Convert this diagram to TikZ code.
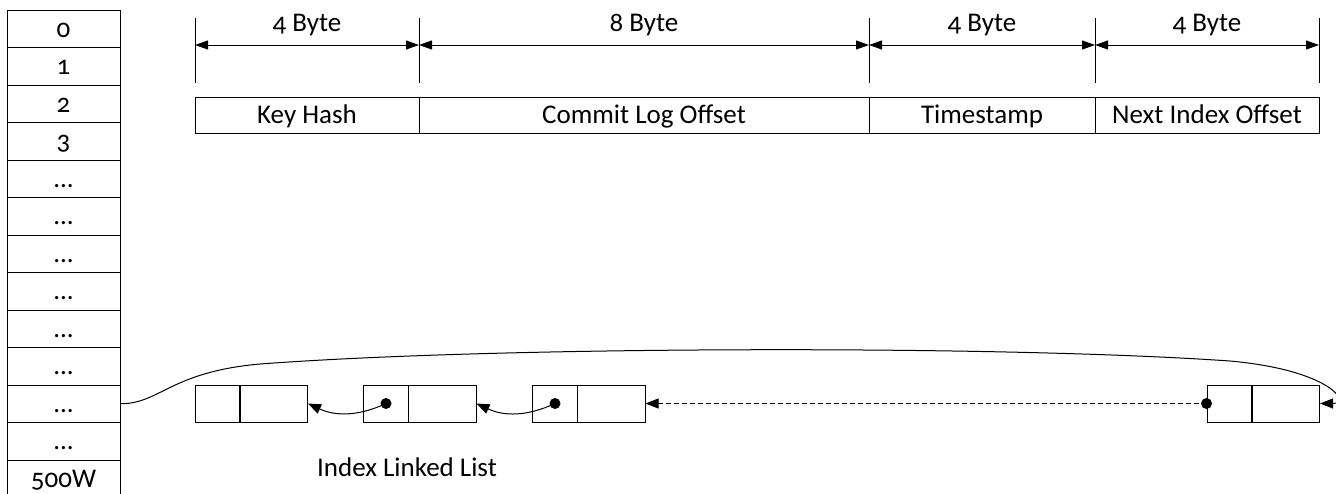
\documentclass[tikz,border=0pt]{standalone}
\usepackage{fontspec}
\setmainfont{Carlito}[Numbers=OldStyle]
\usetikzlibrary{arrows.meta}
\tikzset{
    every node/.style={inner sep=0pt, font=\fontsize{27}{32}\selectfont,
    	text height=17pt, text depth=0pt}
}
\tikzset{
    slot/.style={rectangle, draw, line width=1pt, minimum width=113pt,
    	minimum height=37.5pt},
    field/.style={rectangle, draw, line width=1pt, minimum height=36pt},
    ptr/.style={rectangle, draw, line width=1pt, minimum width=45pt,
    	minimum height=37pt},
    dat/.style={rectangle, draw, line width=1pt, minimum width=68pt,
    	minimum height=37pt},
    ptrdot/.style={circle, fill, minimum size=11pt, text height=0pt}
}
\tikzset{
    dimline/.style={line width=1pt},
    dimarrow/.style={line width=1pt,
    	{Triangle[length=13pt,width=9pt]}-{Triangle[length=13pt,width=9pt]}},
    link/.style={line width=1pt, -{Triangle[length=13pt,width=10pt]}}
}

\begin{document}
\begin{tikzpicture}[x=1pt, y=1pt]
  \useasboundingbox (0,0) rectangle (1336,-493);

  % hash slots
  \node (c0) [slot] at (63.5,-28.75) {0};
  \node (c1) [slot] at (63.5,-66.25) {1};
  \node (c2) [slot] at (63.5,-103.75) {2};
  \node (c3) [slot] at (63.5,-141.25) {3};
  \node (c4) [slot] at (63.5,-178.75) {...};
  \node (c5) [slot] at (63.5,-216.25) {...};
  \node (c6) [slot] at (63.5,-253.75) {...};
  \node (c7) [slot] at (63.5,-291.25) {...};
  \node (c8) [slot] at (63.5,-328.75) {...};
  \node (c9) [slot] at (63.5,-366.25) {...};
  \node (c10) [slot] at (63.5,-403.75) {...};
  \node (c11) [slot] at (63.5,-441.25) {...};
  \node (c12) [slot] at (63.5,-478.75) {500W};

  % byte widths
  \coordinate (t0) at (195,-18);
  \coordinate (t1) at (419,-18);
  \coordinate (t2) at (869,-18);
  \coordinate (t3) at (1095,-18);
  \coordinate (t4) at (1319,-18);
  \coordinate (b0) at (195,-83);
  \coordinate (b1) at (419,-83);
  \coordinate (b2) at (869,-83);
  \coordinate (b3) at (1095,-83);
  \coordinate (b4) at (1319,-83);
  \coordinate (a0) at (195,-45);
  \coordinate (a1) at (419,-45);
  \coordinate (a2) at (869,-45);
  \coordinate (a3) at (1095,-45);
  \coordinate (a4) at (1319,-45);
  \node (w0) at (307,-23) {4 Byte};
  \node (w1) at (644,-23) {8 Byte};
  \node (w2) at (982,-23) {4 Byte};
  \node (w3) at (1207,-23) {4 Byte};

  \draw (t0) edge [dimline] (b0);
  \draw (t1) edge [dimline] (b1);
  \draw (t2) edge [dimline] (b2);
  \draw (t3) edge [dimline] (b3);
  \draw (t4) edge [dimline] (b4);
  \draw (a0) edge [dimarrow] (a1);
  \draw (a1) edge [dimarrow] (a2);
  \draw (a2) edge [dimarrow] (a3);
  \draw (a3) edge [dimarrow] (a4);

  % index entry
  \node (f0) [field, minimum width=224pt] at (307,-115) {Key Hash};
  \node (f1) [field, minimum width=450pt] at (644,-115) {Commit Log Offset};
  \node (f2) [field, minimum width=226pt] at (982,-115) {Timestamp};
  \node (f3) [field, minimum width=224pt] at (1207,-115) {Next Index Offset};

  % linked list
  \node (e1p) [ptr] at (217.5,-403.5) {};
  \node (e1d) [dat] at (273.5,-403.5) {};
  \node (e2p) [ptr] at (386,-403.5) {};
  \node (e2d) [dat] at (442,-403.5) {};
  \node (e3p) [ptr] at (555,-403.5) {};
  \node (e3d) [dat] at (611,-403.5) {};
  \node (e4p) [ptr] at (1229.5,-403.5) {};
  \node (e4d) [dat] at (1285.5,-403.5) {};
  \node (e2dot) [ptrdot] at (e2p.center) {};
  \node (e3dot) [ptrdot] at (e3p.center) {};
  \node (e4dot) [ptrdot] at (e4p.west) {};
  \node (lbl) at (407,-468) {Index Linked List};

  \draw (e2dot.center) edge [link, bend left=25] (e1d.east);
  \draw (e3dot.center) edge [link, bend left=25] (e2d.east);
  \draw (e4dot.center) edge [link, dash pattern=on 5pt off 3pt] (e3d.east);
  \draw [link] (c10.east) .. controls (160,-403.75) and (170,-372) .. (260,-364)
    .. controls (500,-346) and (1000,-345) .. (1230,-361)
    .. controls (1330,-370) and (1352,-403.5) .. (e4d.east);
\end{tikzpicture}
\end{document}
